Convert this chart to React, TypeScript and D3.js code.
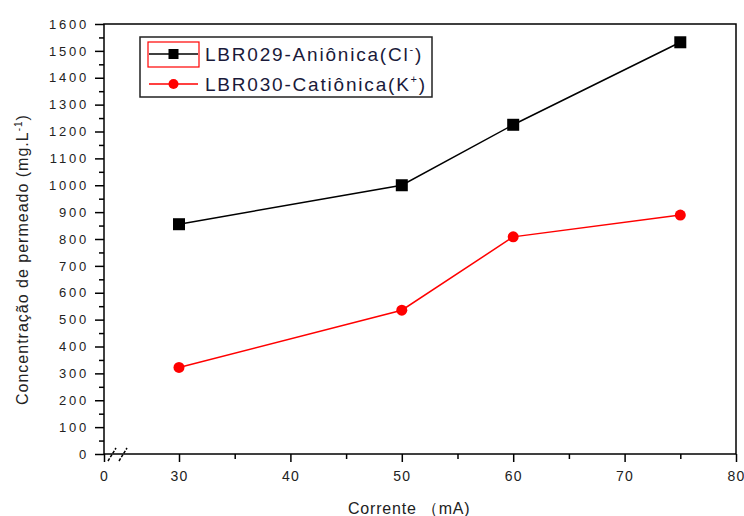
import React, { useEffect, useRef } from 'react';
import * as d3 from 'd3';

// corrente (mA) and concentração de permeado (mg/L)
const corrente = [30, 50, 60, 75];
const anionica = [855, 1000, 1225, 1532];
const cationica = [322, 535, 808, 889];

const xMajor = [0, 30, 40, 50, 60, 70, 80];
const xMinor = [35, 45, 55, 65, 75];
const yMajor = d3.range(0, 1601, 100);
const yMinor = d3.range(50, 1600, 100);

const FONT = '"Liberation Sans", Arial, sans-serif';

const App = () => {
  const svgRef = useRef<SVGSVGElement>(null);

  useEffect(() => {
    const svg = d3.select(svgRef.current);
    svg.selectAll('*').remove();

    const left = 104, right = 736, top = 24, bottom = 454;

    // broken x axis: 0 sits at the left edge, the scale resumes at 30
    const x = d3.scaleLinear().domain([0, 30, 80]).range([left, 179, right]);
    const y = d3.scaleLinear().domain([0, 1600]).range([bottom, top]);

    // frame
    svg.append('rect')
      .attr('x', left).attr('y', top)
      .attr('width', right - left).attr('height', bottom - top)
      .attr('fill', 'none').attr('stroke', '#000').attr('stroke-width', 1.5);

    // y axis
    const yAxis = svg.append('g').attr('transform', `translate(${left},0)`);
    yAxis.call(d3.axisLeft(y).tickValues(yMajor).tickSize(9).tickPadding(6).tickFormat(d3.format('d')));
    yAxis.append('g').call(d3.axisLeft(y).tickValues(yMinor).tickSize(5).tickFormat(() => ''));
    yAxis.selectAll('.domain').remove();
    yAxis.selectAll('line').attr('stroke', '#000').attr('stroke-width', 1.5);
    yAxis.selectAll('text')
      .attr('font-family', FONT).attr('font-size', 13).attr('letter-spacing', 2.8)
      .attr('fill', '#222');

    // x axis
    const xAxis = svg.append('g').attr('transform', `translate(0,${bottom})`);
    xAxis.call(d3.axisBottom(x).tickValues(xMajor).tickSize(8).tickPadding(9).tickFormat(d3.format('d')));
    xAxis.append('g').call(d3.axisBottom(x).tickValues(xMinor).tickSize(5).tickFormat(() => ''));
    xAxis.selectAll('.domain').remove();
    xAxis.selectAll('line').attr('stroke', '#000').attr('stroke-width', 1.5);
    xAxis.selectAll('text')
      .attr('font-family', FONT).attr('font-size', 14).attr('letter-spacing', 1.2)
      .attr('fill', '#222');

    // axis break marks
    [x(0) + 8, x(0) + 19].forEach(bx => {
      svg.append('line')
        .attr('x1', bx - 4).attr('y1', bottom + 7)
        .attr('x2', bx + 4).attr('y2', bottom - 6)
        .attr('stroke', '#000').attr('stroke-width', 1.5)
        .attr('stroke-dasharray', '3,1.5');
    });

    // axis titles
    svg.append('text')
      .attr('x', 348).attr('y', 514)
      .attr('font-family', FONT).attr('font-size', 16).attr('letter-spacing', 0.8)
      .attr('fill', '#222')
      .text('Corrente （mA)');

    const yl = svg.append('text')
      .attr('transform', 'translate(28,405) rotate(-90)')
      .attr('font-family', FONT).attr('font-size', 16).attr('letter-spacing', 1)
      .attr('fill', '#222');
    yl.append('tspan').text('Concentração de permeado  (mg.L');
    yl.append('tspan').attr('dy', -6).attr('font-size', 10).text('-1');
    yl.append('tspan').attr('dy', 6).text(')');

    const line = d3.line<number>()
      .x((d, i) => x(corrente[i]))
      .y(d => y(d));

    // series
    svg.append('path').datum(anionica)
      .attr('d', line).attr('fill', 'none')
      .attr('stroke', '#000').attr('stroke-width', 1.5);
    svg.selectAll('.sq').data(anionica).enter().append('rect')
      .attr('x', (d, i) => x(corrente[i]) - 6)
      .attr('y', d => y(d) - 6)
      .attr('width', 12).attr('height', 12).attr('fill', '#000');

    svg.append('path').datum(cationica)
      .attr('d', line).attr('fill', 'none')
      .attr('stroke', '#ff0000').attr('stroke-width', 1.5);
    svg.selectAll('.ci').data(cationica).enter().append('circle')
      .attr('cx', (d, i) => x(corrente[i]))
      .attr('cy', d => y(d))
      .attr('r', 5.5).attr('fill', '#ff0000');

    // legend
    const lg = svg.append('g');
    lg.append('rect')
      .attr('x', 140).attr('y', 37).attr('width', 292).attr('height', 60)
      .attr('fill', '#fff').attr('stroke', '#222').attr('stroke-width', 1.5);
    lg.append('rect')
      .attr('x', 148).attr('y', 42).attr('width', 51).attr('height', 25)
      .attr('fill', 'none').attr('stroke', '#ff0000').attr('stroke-width', 1.2);

    const rows = [
      { name: 'LBR029-Aniônica(Cl', sup: '-', color: '#000', shape: 'square' },
      { name: 'LBR030-Catiônica(K', sup: '+', color: '#ff0000', shape: 'circle' },
    ];
    rows.forEach((r, i) => {
      const cy = 54 + i * 30;
      lg.append('line')
        .attr('x1', 149).attr('x2', 198).attr('y1', cy).attr('y2', cy)
        .attr('stroke', r.color).attr('stroke-width', 1.5);
      if (r.shape === 'square') {
        lg.append('rect').attr('x', 168.5).attr('y', cy - 5)
          .attr('width', 10).attr('height', 10).attr('fill', r.color);
      } else {
        lg.append('circle').attr('cx', 173.5).attr('cy', cy)
          .attr('r', 5).attr('fill', r.color);
      }
      const t = lg.append('text')
        .attr('x', 205).attr('y', cy + 7)
        .attr('font-family', FONT).attr('font-size', 19).attr('letter-spacing', 1.8)
        .attr('fill', '#1a1a3a');
      t.append('tspan').text(r.name);
      t.append('tspan').attr('dy', -8).attr('font-size', 11).text(r.sup);
      t.append('tspan').attr('dy', 8).text(')');
    });
  }, []);

  return (
    <svg
      ref={svgRef}
      width={744}
      height={516}
      style={{ position: 'absolute', left: 0, top: 0, background: '#fff' }}
    />
  );
};

export default App;
